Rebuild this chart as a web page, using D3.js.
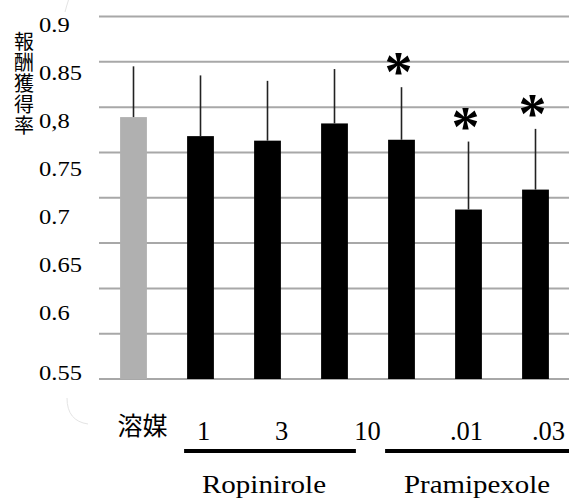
<!DOCTYPE html>
<html>
<head>
<meta charset="utf-8">
<script src="https://cdn.jsdelivr.net/npm/d3@7"></script>
<style>
  html, body { margin: 0; padding: 0; background: #fff; }
  svg { display: block; }
  .serif { font-family: "Liberation Serif", "DejaVu Serif", "Noto Serif", "Times New Roman", serif; }
  .cjk { font-family: "Noto Sans CJK JP", "Noto Sans CJK SC", sans-serif; }
</style>
</head>
<body>
<div id="chart"></div>
<script>
// Reward acquisition rate per treatment group (mean and error)
const categories = ["溶媒", "1", "3", "10", "", ".01", ".03"];
const means      = [0.789, 0.768, 0.763, 0.782, 0.764, 0.687, 0.709];
const errors     = [0.056, 0.067, 0.066, 0.060, 0.058, 0.075, 0.067];
const significant = [false, false, false, false, true, true, true];

// Drug groups and the bar indices they cover
const drugNames = ["Ropinirole", "Pramipexole"];
const drugSpans = [[1, 3], [4, 6]];

// Axis
const gridValues = [0.5, 0.55, 0.6, 0.65, 0.7, 0.75, 0.8, 0.85, 0.9];
const tickLabels = ["0.9", "0.85", "0,8", "0.75", "0.7", "0.65", "0.6", "0.55"];
const yTitle = "報酬獲得率";

const width = 569, height = 498;
const plotLeft = 99, plotRight = 569, plotTop = 16.5, plotBottom = 379;

const svg = d3.select("#chart").append("svg")
  .attr("width", width).attr("height", height);
svg.append("rect").attr("width", width).attr("height", height).attr("fill", "#fff");

const y = d3.scaleLinear().domain([0.5, 0.9]).range([plotBottom, plotTop]);
const x = d3.scaleBand().domain(d3.range(categories.length))
  .range([plotLeft + 1, plotRight]).paddingInner(0.6).paddingOuter(0.3);
const bw = x.bandwidth();
const cx = i => x(i) + bw / 2;

// faint corner arcs of the surrounding frame
svg.append("path").attr("d", "M68.5,0 Q66.5,6 65,12")
  .attr("fill", "none").attr("stroke", "#e4e4e4").attr("stroke-width", 1);
svg.append("path").attr("d", "M67,398 Q67,421 88,424")
  .attr("fill", "none").attr("stroke", "#e4e4e4").attr("stroke-width", 1);

// gridlines
svg.append("g").selectAll("line").data(gridValues).join("line")
  .attr("x1", plotLeft).attr("x2", plotRight)
  .attr("y1", d => y(d)).attr("y2", d => y(d))
  .attr("stroke", "#a8a8a8").attr("stroke-width", 2);

// tick labels: hand-set column, evenly spaced, last one sits on the baseline
const labelY = d3.scaleLinear().domain([0, 6]).range([y(0.9) + 8.5, y(0.6) + 25]);
svg.append("g").selectAll("text").data(tickLabels).join("text")
  .attr("class", "serif")
  .attr("transform", (d, i) =>
    `translate(39,${(i < 7 ? labelY(i) : y(0.5) - 6) + 7}) scale(1.17,1)`)
  .style("font-size", "21px")
  .attr("fill", "#000")
  .text(d => d);

// vertical axis title, set top to bottom
svg.append("text")
  .attr("class", "cjk")
  .attr("x", 24).attr("y", 31)
  .style("writing-mode", "vertical-rl")
  .style("letter-spacing", "1px")
  .style("font-size", "20px")
  .attr("fill", "#000")
  .text(yTitle);

// bars
svg.append("g").selectAll("rect").data(means).join("rect")
  .attr("x", (d, i) => x(i)).attr("width", bw)
  .attr("y", d => y(d)).attr("height", d => y(0.5) - y(d))
  .attr("fill", (d, i) => i === 0 ? "#b0b0b0" : "#000");

// error bars (upper only)
svg.append("g").selectAll("line").data(means).join("line")
  .attr("x1", (d, i) => cx(i)).attr("x2", (d, i) => cx(i))
  .attr("y1", d => y(d)).attr("y2", (d, i) => y(d + errors[i]))
  .attr("stroke", "#222").attr("stroke-width", 1.6);

// significance marks
svg.append("g").selectAll("text")
  .data(d3.range(means.length).filter(i => significant[i])).join("text")
  .attr("class", "serif")
  .attr("x", i => cx(i) - 3)
  .attr("y", i => y(means[i] + errors[i]) - 20 + 24)
  .attr("text-anchor", "middle")
  .style("font-weight", "bold")
  .style("font-size", "56px")
  .attr("fill", "#000")
  .text("*");

// dose labels under the bars
const labelNudge = [9, 3, 14, 33, 0, -2, 13];
svg.append("g").selectAll("text").data(categories).join("text")
  .attr("class", (d, i) => i === 0 ? "cjk" : "serif")
  .attr("x", (d, i) => cx(i) + labelNudge[i])
  .attr("y", (d, i) => i === 0 ? 435 : 440)
  .attr("text-anchor", "middle")
  .style("font-size", (d, i) => i === 0 ? "25px" : "26.5px")
  .attr("fill", "#000")
  .text(d => d);

// drug group underlines and names
const spanEnds = drugSpans.map(([a, b], k) => [
  x(a) - 3,
  k < drugSpans.length - 1 ? x(b) + bw + 8 : plotRight
]);
svg.append("g").selectAll("line").data(spanEnds).join("line")
  .attr("x1", d => d[0]).attr("x2", d => d[1])
  .attr("y1", 451).attr("y2", 451)
  .attr("stroke", "#000").attr("stroke-width", 4);
const nameWidths = [124, 146];
svg.append("g").selectAll("text").data(drugNames).join("text")
  .attr("class", "serif")
  .attr("x", (d, k) => (spanEnds[k][0] + spanEnds[k][1]) / 2 - (k === 0 ? 6 : 0))
  .attr("y", 493)
  .attr("text-anchor", "middle")
  .style("font-size", "26px")
  .attr("textLength", (d, k) => nameWidths[k])
  .attr("lengthAdjust", "spacingAndGlyphs")
  .attr("fill", "#000")
  .text(d => d);
</script>
</body>
</html>
